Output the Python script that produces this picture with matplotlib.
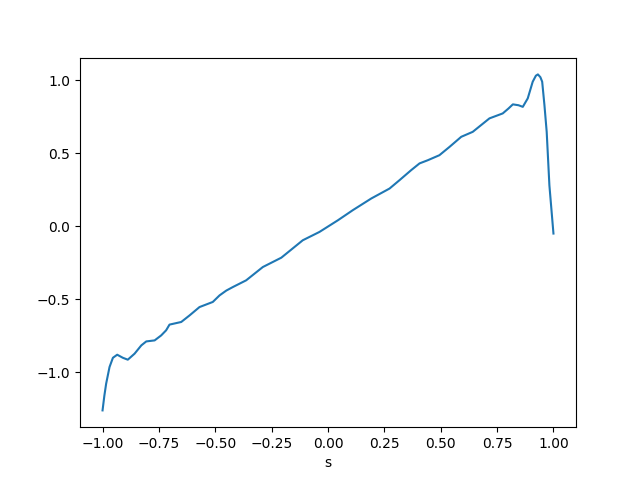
import numpy as np
import matplotlib.pyplot as plt

# points
s = [-1.000, -0.992, -0.984, -0.969, -0.954, -0.935, -0.910, -0.888, -0.858, -0.828,
     -0.806, -0.769, -0.740, -0.718, -0.703, -0.651, -0.614, -0.570, -0.511, -0.481,
     -0.451, -0.422, -0.363, -0.289, -0.207, -0.112, -0.038, 0.044, 0.110, 0.192,
     0.273, 0.317, 0.369, 0.406, 0.443, 0.494, 0.539, 0.591, 0.642, 0.716,
     0.775, 0.800, 0.820, 0.845, 0.864, 0.886, 0.908, 0.922, 0.931, 0.942,
     0.950, 0.960, 0.970, 0.982, 1.000]
f = [-1.26, -1.16, -1.077, -0.963, -0.900, -0.879, -0.900, -0.913, -0.872, -0.815,
     -0.788, -0.781, -0.747, -0.712, -0.673, -0.655, -0.610, -0.553, -0.518, -0.473,
     -0.440, -0.416, -0.370, -0.279, -0.215, -0.096, -0.039, 0.041, 0.110, 0.190,
     0.258, 0.315, 0.384, 0.430, 0.452, 0.486, 0.543, 0.612, 0.646, 0.738,
     0.772, 0.805, 0.834, 0.828, 0.817, 0.875, 0.989, 1.030, 1.039, 1.020,
     0.989, 0.829, 0.646, 0.280, -0.05]

fig, ax = plt.subplots(figsize=(6.4, 4.8), dpi=100)
ax.plot(s, f)
ax.set_xlabel('s')
plt.savefig('out.png')
